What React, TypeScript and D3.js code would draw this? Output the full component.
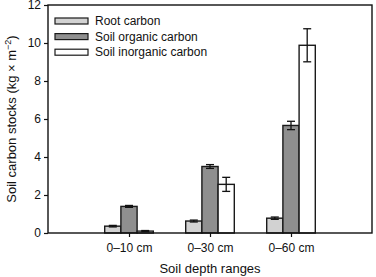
import { useEffect, useRef } from 'react'
import * as d3 from 'd3'

const depths = ['0–10 cm', '0–30 cm', '0–60 cm']
const seriesNames = ['Root carbon', 'Soil organic carbon', 'Soil inorganic carbon']
const seriesColors = ['#d2d2d2', '#8f8f8f', '#ffffff']
const rootCarbon = [0.36, 0.63, 0.78]
const organicCarbon = [1.4, 3.5, 5.66]
const inorganicCarbon = [0.1, 2.56, 9.88]
const rootErr = [0.04, 0.05, 0.06]
const organicErr = [0.05, 0.1, 0.22]
const inorganicErr = [0.03, 0.37, 0.87]
const yTicks = [0, 2, 4, 6, 8, 10, 12]

export default function App() {
  const svgRef = useRef<SVGSVGElement>(null)

  useEffect(() => {
    const el = svgRef.current
    if (!el) return
    d3.select(el).selectAll('*').remove()

    const W = 376, H = 277
    const m = { top: 5, right: 4, bottom: 44, left: 48 }
    const font = 'Liberation Sans, Arial, sans-serif'

    const svg = d3.select(el).attr('width', W).attr('height', H)

    const x = d3.scaleLinear().domain([0, 4]).range([m.left, W - m.right])
    const y = d3.scaleLinear().domain([0, 12]).range([H - m.bottom, m.top])

    const values = [rootCarbon, organicCarbon, inorganicCarbon]
    const errs = [rootErr, organicErr, inorganicErr]
    const bw = 0.2

    const g = svg.append('g')

    values.forEach((vals, s) => {
      vals.forEach((v, i) => {
        const cx = i + 1 + (s - 1) * bw
        const x0 = x(cx - bw / 2)
        const x1 = x(cx + bw / 2)
        g.append('rect')
          .attr('x', x0)
          .attr('y', y(v))
          .attr('width', x1 - x0)
          .attr('height', y(0) - y(v))
          .attr('fill', seriesColors[s])
          .attr('stroke', '#1a1a1a')
          .attr('stroke-width', 1.4)
        // error bar
        const e = errs[s][i]
        const px = x(cx)
        g.append('line')
          .attr('x1', px).attr('x2', px)
          .attr('y1', y(v + e)).attr('y2', y(v - e))
          .attr('stroke', '#111').attr('stroke-width', 1.3)
        ;[v + e, v - e].forEach(t => {
          g.append('line')
            .attr('x1', px - 4).attr('x2', px + 4)
            .attr('y1', y(t)).attr('y2', y(t))
            .attr('stroke', '#111').attr('stroke-width', 1.3)
        })
      })
    })

    // frame
    svg.append('rect')
      .attr('x', m.left).attr('y', m.top)
      .attr('width', W - m.right - m.left)
      .attr('height', H - m.bottom - m.top)
      .attr('fill', 'none')
      .attr('stroke', '#111')
      .attr('stroke-width', 1.4)

    // y axis
    const yAxis = svg.append('g')
      .attr('transform', `translate(${m.left},0)`)
      .call(d3.axisLeft(y).tickValues(yTicks).tickSize(4).tickPadding(3).tickFormat(d3.format('d')))
    yAxis.select('.domain').remove()
    yAxis.selectAll('line').attr('stroke', '#111').attr('stroke-width', 1.2)
    yAxis.selectAll('text').attr('font-family', font).attr('font-size', 12).attr('fill', '#111')

    // x axis
    const xAxis = svg.append('g')
      .attr('transform', `translate(0,${H - m.bottom})`)
      .call(d3.axisBottom(x).tickValues([1, 2, 3]).tickSize(4).tickPadding(6)
        .tickFormat(d => depths[(d as number) - 1]))
    xAxis.select('.domain').remove()
    xAxis.selectAll('line').attr('stroke', '#111').attr('stroke-width', 1.2)
    xAxis.selectAll('text').attr('font-family', font).attr('font-size', 12).attr('fill', '#111')

    // axis titles
    svg.append('text')
      .attr('x', (m.left + W - m.right) / 2 + 0)
      .attr('y', 273)
      .attr('text-anchor', 'middle')
      .attr('font-family', font).attr('font-size', 13).attr('fill', '#111')
      .text('Soil depth ranges')

    const yt = svg.append('text')
      .attr('transform', `translate(16,${(m.top + H - m.bottom) / 2}) rotate(-90)`)
      .attr('text-anchor', 'middle')
      .attr('font-family', font).attr('font-size', 13).attr('fill', '#111')
    yt.append('tspan').text('Soil carbon stocks (kg × m')
    yt.append('tspan').attr('font-size', 9).attr('dy', -5).text('−2')
    yt.append('tspan').attr('dy', 5).text(')')

    // legend
    const leg = svg.append('g').attr('transform', `translate(55,18)`)
    seriesNames.forEach((name, i) => {
      const row = leg.append('g').attr('transform', `translate(0,${i * 15.6})`)
      row.append('rect')
        .attr('width', 33).attr('height', 6)
        .attr('fill', seriesColors[i])
        .attr('stroke', '#1a1a1a').attr('stroke-width', 1.2)
      row.append('text')
        .attr('x', 40).attr('y', 3).attr('dy', '0.35em')
        .attr('font-family', font).attr('font-size', 12).attr('fill', '#111')
        .text(name)
    })
  }, [])

  return (
    <div style={{ position: 'absolute', left: 0, top: 0 }}>
      <svg ref={svgRef} style={{ display: 'block' }} />
    </div>
  )
}
